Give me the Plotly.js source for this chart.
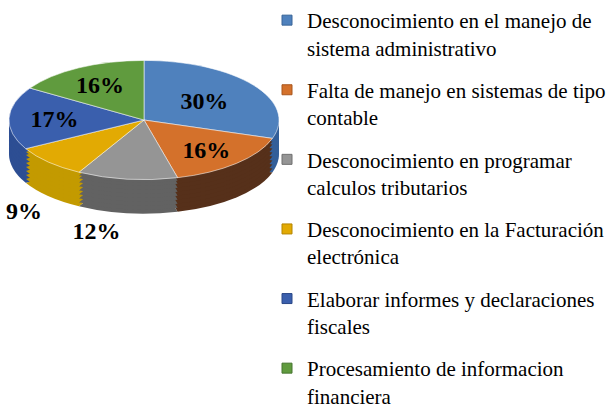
<!DOCTYPE html>
<html>
<head>
<meta charset="utf-8">
<script src="https://cdn.plot.ly/plotly-3.0.1.min.js"></script>
<style>html,body{margin:0;padding:0;background:#fff;}#chart{width:611px;height:407px;}</style>
</head>
<body>
<div id="chart"></div>
<script>
// ---- data ----
const categories = [
  "Desconocimiento en el manejo de<br>sistema administrativo",
  "Falta de manejo en sistemas de tipo<br>contable",
  "Desconocimiento en programar<br>calculos tributarios",
  "Desconocimiento en la Facturación<br>electrónica",
  "Elaborar informes y declaraciones<br>fiscales",
  "Procesamiento de informacion<br>financiera"
];
const values = [30, 16, 12, 9, 17, 16];

// ---- styles ----
const topColors  = ["#4F81BD", "#D4712B", "#959595", "#E2AA03", "#3A5FAD", "#609B3E"];
const sideColors = ["#335F99", "#56301A", "#626262", "#C39A00", "#2D4E93", "#41702A"];
const edgeColors = ["#3A6598", "#A8561C", "#6F6F6F", "#B48500", "#2A4888", "#477530"];
const textPos = ["inside", "inside", "outside", "outside", "inside", "inside"];

const W = 611, H = 407;
const cx = 144, topCy = 120, a = 136, b = 60, depth = 34;
const k = b / a;
const layerOffsets = [34, 30, 26, 22, 18, 14, 10, 6, 3];

const pieDomain = {
  x: [(cx - a) / W, (cx + a) / W],
  y: [0.5 - a / H, 0.5 + a / H]
};

const sideTraces = layerOffsets.map(() => ({
  type: "pie",
  labels: categories,
  values: values,
  sort: false,
  direction: "clockwise",
  rotation: 0,
  domain: pieDomain,
  marker: {colors: sideColors, line: {width: 0}},
  textinfo: "none",
  hoverinfo: "skip",
  showlegend: false
}));

const topTrace = {
  type: "pie",
  labels: categories,
  values: values,
  sort: false,
  direction: "clockwise",
  rotation: 0,
  domain: pieDomain,
  marker: {colors: topColors, line: {color: "rgba(255,255,255,0.55)", width: 1}},
  textinfo: "percent",
  textposition: textPos,
  insidetextorientation: "horizontal",
  textfont: {family: "Liberation Serif", size: 24, color: "#000", weight: "bold"},
  showlegend: false
};

const legendTraces = categories.map((c, i) => ({
  type: "scatter",
  mode: "markers",
  x: [null], y: [null],
  name: c,
  legendgroup: "g" + i,
  marker: {symbol: "square", size: 10, color: topColors[i], line: {color: edgeColors[i], width: 1}},
  showlegend: true,
  hoverinfo: "skip"
}));

const layout = {
  width: W, height: H,
  margin: {l: 0, r: 0, t: 0, b: 0},
  paper_bgcolor: "#fff",
  plot_bgcolor: "rgba(0,0,0,0)",
  xaxis: {visible: false, domain: [0.9, 1]},
  yaxis: {visible: false, domain: [0.9, 1]},
  showlegend: true,
  legend: {
    x: 267 / W, xanchor: "left",
    y: 1 + 3 / H, yanchor: "top",
    valign: "top",
    traceorder: "grouped",
    tracegroupgap: 12,
    maxheight: 460,
    font: {family: "Liberation Serif", size: 21, color: "#000"},
    bgcolor: "rgba(0,0,0,0)"
  }
};

const gd = document.getElementById("chart");
const allPies = sideTraces.concat([topTrace]);

function tilt() {
  const groups = gd.querySelectorAll(".pielayer .trace");
  groups.forEach((g, i) => {
    const cd0 = gd.calcdata[i] && gd.calcdata[i][0];
    if (!cd0 || cd0.cy === undefined) return;
    const off = i < layerOffsets.length ? layerOffsets[i] : 0;
    g.setAttribute("transform",
      "translate(0," + (topCy + off) + ") scale(1," + k + ") translate(0," + (-cd0.cy) + ")");
    g.querySelectorAll("path.surface").forEach(p => p.setAttribute("vector-effect", "non-scaling-stroke"));
    if (i === allPies.length - 1) {
      g.querySelectorAll("g.slice").forEach((s, j) => {
        const t = s.querySelector("g.slicetext");
        if (!t) return;
        const bb = t.getBBox();
        const x0 = bb.x + bb.width / 2, y0 = bb.y + bb.height / 2;
        const extra = textPos[j] === "outside" ? (depth + 12) / k : 0;
        t.setAttribute("transform",
          "translate(" + x0 + "," + (y0 + extra) + ") scale(1," + (1 / k) + ") translate(" + (-x0) + "," + (-y0) + ")");
      });
    }
  });
}

Plotly.newPlot(gd, allPies.concat(legendTraces), layout, {displayModeBar: false, staticPlot: true}).then(tilt);
</script>
</body>
</html>
